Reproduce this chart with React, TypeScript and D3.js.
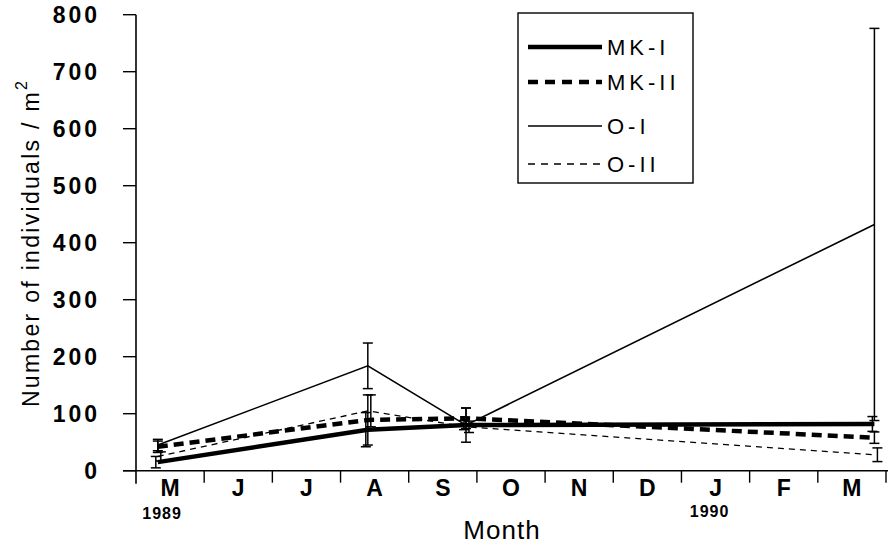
import React from 'react';
import * as d3 from 'd3';

// months from May 1989 to March 1990
const monthLabels = ['M', 'J', 'J', 'A', 'S', 'O', 'N', 'D', 'J', 'F', 'M'];
const yTicks = [0, 100, 200, 300, 400, 500, 600, 700, 800];

// sampling dates, in months since 1 May 1989
const sampleTimes = [0.32, 3.4, 4.84, 10.83];

const mk1 = [15, 72, 80, 82];
const mk1Err = [10, 30, 8, 13];
const mk2 = [42, 89, 92, 58];
const mk2Err = [10, 44, 18, 10];
const o1 = [45, 184, 80, 432];
const o1Err = [10, 40, 30, 344];
const o2 = [25, 105, 77, 28];
const o2Err = [8, 28, 10, 12];

const series = [
  { name: 'MK-I', values: mk1, err: mk1Err, width: 4.5, dash: 'none', legendDash: 'none', dx: -2 },
  { name: 'MK-II', values: mk2, err: mk2Err, width: 4.5, dash: '10,6', legendDash: '10,7', dx: 0 },
  { name: 'O-I', values: o1, err: o1Err, width: 1.6, dash: 'none', legendDash: 'none', dx: 0 },
  { name: 'O-II', values: o2, err: o2Err, width: 1.3, dash: '6,5', legendDash: '7,6', dx: 3 },
];

const W = 892;
const H = 548;
const FONT = 'Liberation Sans, Arial, Helvetica, sans-serif';

export default function App() {
  const x = d3.scaleLinear().domain([0, 11]).range([136, 886]);
  const y = d3.scaleLinear().domain([0, 800]).range([470.7, 14.7]);

  const line = d3
    .line<number>()
    .x((_d, i) => x(sampleTimes[i]))
    .y((d) => y(d));

  const legendRows = [47, 82, 126, 164];

  return (
    <svg
      width={W}
      height={H}
      style={{ position: 'absolute', left: 0, top: 0, background: '#fff' }}
      fontFamily={FONT}
    >
      {/* y axis */}
      <line x1={x(0)} x2={x(0)} y1={y(800)} y2={y(0) + 13} stroke="#000" strokeWidth={1.6} />
      {yTicks.map((t) => (
        <g key={t}>
          <line x1={x(0) - 13} x2={x(0)} y1={y(t)} y2={y(t)} stroke="#000" strokeWidth={1.4} />
          <text
            x={100}
            y={y(t)}
            textAnchor="end"
            dominantBaseline="central"
            fontSize={23}
            fontWeight="bold"
            letterSpacing={3}
          >
            {t}
          </text>
        </g>
      ))}

      {/* x axis */}
      <line x1={x(0) - 13} x2={x(11) + 2} y1={y(0)} y2={y(0)} stroke="#000" strokeWidth={1.6} />
      {d3.range(1, 12).map((i) => (
        <line key={i} x1={x(i)} x2={x(i)} y1={y(0)} y2={y(0) + 12} stroke="#000" strokeWidth={1.4} />
      ))}
      {monthLabels.map((m, i) => (
        <text
          key={i}
          x={x(i + 0.5)}
          y={488}
          textAnchor="middle"
          dominantBaseline="central"
          fontSize={23}
          fontWeight="bold"
        >
          {m}
        </text>
      ))}
      <text x={x(0.5) - 8} y={513} textAnchor="middle" dominantBaseline="central" fontSize={16} fontWeight="bold" letterSpacing={1}>
        1989
      </text>
      <text x={x(8.5) - 6} y={511} textAnchor="middle" dominantBaseline="central" fontSize={16} fontWeight="bold" letterSpacing={1}>
        1990
      </text>
      <text x={502} y={530} textAnchor="middle" dominantBaseline="central" fontSize={26} letterSpacing={1}>
        Month
      </text>
      <text
        transform={`translate(31, 243) rotate(-90)`}
        textAnchor="middle"
        dominantBaseline="central"
        fontSize={23}
        letterSpacing={2.3}
      >
        Number of individuals / m
        <tspan dy={-10} fontSize={16}>
          2
        </tspan>
      </text>

      {/* series lines */}
      {series.map((s) => (
        <path
          key={s.name}
          d={line(s.values) ?? ''}
          fill="none"
          stroke="#000"
          strokeWidth={s.width}
          strokeDasharray={s.dash}
        />
      ))}

      {/* error bars */}
      {series.map((s) =>
        s.values.map((v, i) => {
          const cx = x(sampleTimes[i]) + s.dx;
          const top = y(v + s.err[i]);
          const bot = y(Math.max(0, v - s.err[i]));
          return (
            <g key={s.name + i} stroke="#000" strokeWidth={1.5}>
              <line x1={cx} x2={cx} y1={top} y2={bot} />
              <line x1={cx - 5} x2={cx + 5} y1={top} y2={top} />
              <line x1={cx - 5} x2={cx + 5} y1={bot} y2={bot} />
            </g>
          );
        })
      )}

      {/* legend */}
      <rect x={518} y={13} width={175} height={170} fill="#fff" stroke="#000" strokeWidth={1.4} />
      {series.map((s, i) => (
        <g key={s.name}>
          <line
            x1={528}
            x2={602}
            y1={legendRows[i]}
            y2={legendRows[i]}
            stroke="#000"
            strokeWidth={s.width}
            strokeDasharray={s.legendDash}
          />
          <text x={607} y={legendRows[i]} dominantBaseline="central" fontSize={22} letterSpacing={4}>
            {s.name}
          </text>
        </g>
      ))}
    </svg>
  );
}
